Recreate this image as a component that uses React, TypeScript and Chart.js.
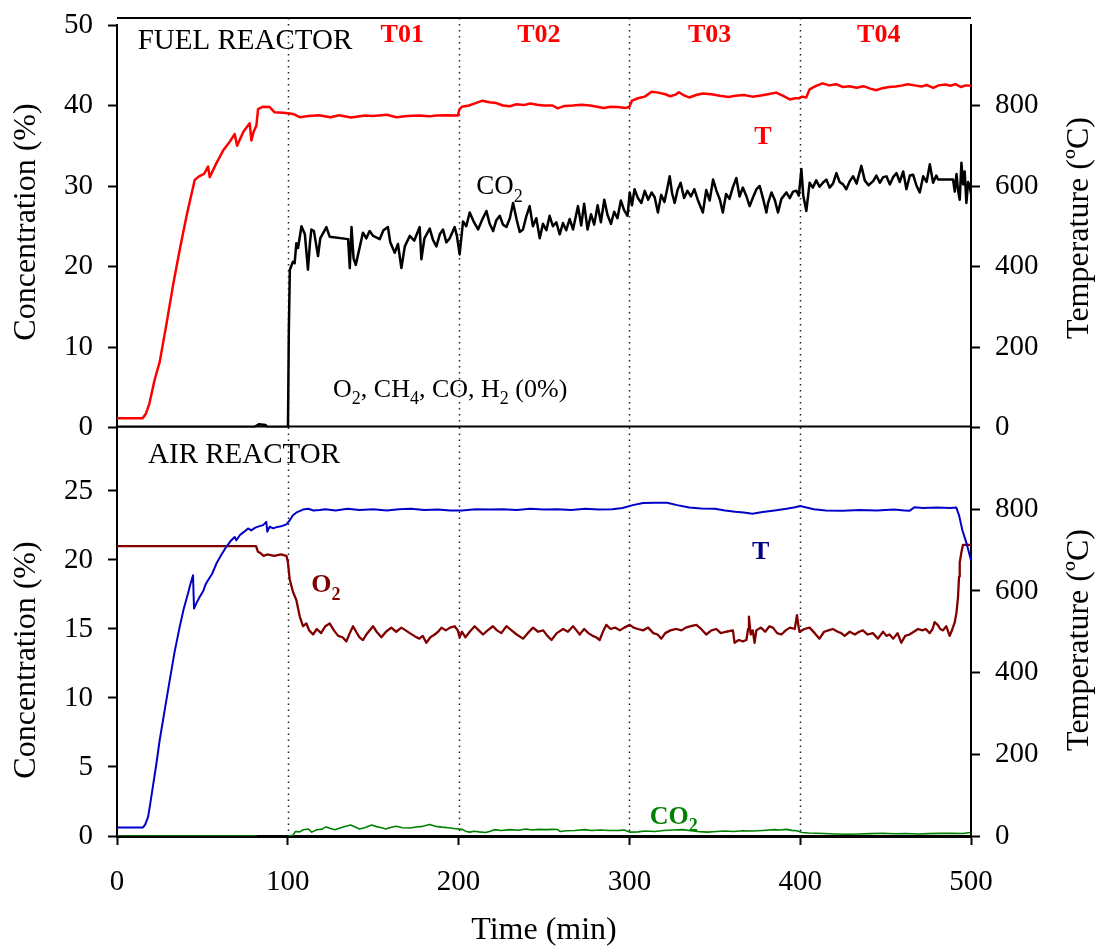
import React, { useEffect, useRef } from 'react';
import { Chart, registerables } from 'chart.js';

Chart.register(...registerables);

const W = 1099;
const H = 947;
const SERIF = '"Liberation Serif", "Times New Roman", Times, serif';
const LEFT_W = 117;
const RIGHT_W = 128;
const TOP_AREA_TOP = 25;
const PANEL_SPLIT = 427.5;
const X_AXIS_H = 111;

// ---------- tick labels / categories ----------
const X_TICKS = [0, 100, 200, 300, 400, 500];
const FUEL_CONC_TICKS = [0, 10, 20, 30, 40, 50];
const AIR_CONC_TICKS = [0, 5, 10, 15, 20, 25];
const TEMP_TICKS = [0, 200, 400, 600, 800];
const PERIOD_BOUNDS = [100, 200, 300, 400];
const PERIOD_LABELS = ['T01', 'T02', 'T03', 'T04'];
const PERIOD_LABEL_TIME = [167, 247, 347, 446];

// ---------- FUEL REACTOR series: [time (min), value] ----------
const FUEL_TEMP: [number, number][] = [
  [0, 23], [15, 23], [17, 35], [19, 60], [22, 118], [25, 163], [29, 258], [33, 358], [37, 448], [41, 531],
  [45.5, 615], [48, 624], [51, 630], [53.3, 648], [54.3, 622], [58, 655], [62.1, 688], [66, 710], [68.9, 729], [70.3, 700],
  [74, 735], [77.7, 756], [78.7, 713], [80, 735], [81.6, 750], [82.6, 791], [85.5, 797], [89.4, 796], [92.3, 783], [97.2, 782],
  [100, 781], [103, 779], [107, 771], [112, 774], [118, 776], [125, 771], [130, 776], [137, 770], [145, 775], [150, 774],
  [158, 777], [163.6, 771], [170, 774], [177, 775], [183, 773], [187, 775], [192, 776], [199.5, 775],
  [200.5, 790], [202, 797], [206, 800], [210, 806], [214, 812], [218, 808], [222, 806], [226, 800], [230, 798], [234, 803],
  [238, 801], [242, 805], [246, 802], [250, 800], [255, 800], [258, 793], [262, 799], [267, 800], [272, 802], [277, 800],
  [281, 797], [285, 794], [289, 797], [293, 796], [298, 794], [300, 797],
  [301.5, 812], [305, 818], [309, 822], [313, 834], [317, 832], [321, 828], [324, 823], [327, 827], [329, 833], [332, 825],
  [335, 820], [339, 826], [343, 830], [348, 828], [353, 824], [358, 821], [362, 824], [367, 826], [372, 822], [377, 825],
  [381, 828], [386, 832], [390, 824], [394, 815], [397, 818], [399.5, 818],
  [401, 822], [403.5, 820], [405.5, 840], [409, 848], [413, 855], [417, 850], [421, 853], [425, 846], [429, 848], [433, 844],
  [437, 848], [441, 842], [444.6, 838], [448, 843], [452, 846], [456, 847], [460, 850], [463, 853], [467, 850], [471, 847],
  [474, 851], [478, 844], [481, 850], [485, 852], [488, 849], [491, 853], [494, 846], [497, 850], [500, 849],
];

const FUEL_CO2: [number, number][] = [
  [0, 0], [80, 0], [83, 0.4], [87, 0.3], [88, 0], [100.1, 0], [100.6, 12], [101.2, 19.6], [103, 20.6], [104, 20.4],
  [105, 22.9], [106, 22.3], [108, 25], [110, 24], [111.8, 19.6], [113, 23], [113.8, 24.6], [115.3, 24.4], [117.7, 21.3], [119, 23.5],
  [122.6, 24.9], [124.5, 23.7], [135.3, 23.4], [136.3, 19.8], [137.3, 24.9], [138.5, 21], [139.8, 20.2], [142.2, 22.5], [144, 24.2], [146, 23.5],
  [147.9, 24.4], [150, 23.8], [153.8, 23.4], [156, 24.5], [158.6, 24.9], [160, 23], [162.6, 21.7], [164.5, 22.8], [166.5, 19.8], [168.5, 22.5],
  [171.4, 23.8], [174, 23.2], [177.2, 24.9], [178.2, 20.9], [180, 23.5], [183.1, 24.7], [185, 23.3], [187, 22.5], [189, 24], [190.9, 24.6],
  [192.8, 23], [194.8, 23.5], [197.7, 24.9], [199, 23.8], [200.6, 21.5], [202.6, 25.6], [204.5, 25], [206.5, 26.7], [209, 25.5], [211.4, 24.6],
  [213.8, 25.8], [216.3, 26.9], [218.2, 25.3], [220.2, 24.4], [222, 25.7], [224.1, 26.3], [226, 25.2], [228, 24.9], [230, 26], [231.9, 27.9],
  [234, 25.8], [235.8, 24.3], [237.7, 24.6], [239.6, 26.2], [241.6, 27.5], [243.5, 25], [245.5, 26], [247.5, 23.5], [249.4, 25.3], [251.4, 24.5],
  [253.3, 26.3], [255.2, 25], [257.2, 25.5], [259.2, 24], [261.1, 25.4], [263, 24.5], [265, 25.9], [267, 24.6], [269.9, 27.5], [271.8, 25.1],
  [273.5, 27.8], [275.5, 24.6], [277.5, 26.5], [279.4, 25.2], [281.4, 27.6], [283.3, 25.5], [285.3, 28.3], [287.2, 26.4], [289.2, 25.3], [291.1, 26.8],
  [293, 26], [295, 28.2], [296.9, 27], [298.9, 26.3], [300.2, 29.2], [301.5, 27.6], [303, 29.6], [305, 28.5], [307, 27.9], [309, 29.4],
  [311, 28.3], [313, 29.2], [314.8, 28.6], [316.7, 26.7], [318.6, 28.9], [320.5, 28], [322, 29.5], [323.6, 31.2], [325, 29.1], [326.5, 27.9],
  [328.2, 29.5], [330, 30.4], [332, 28.5], [334, 29.4], [336, 28.7], [338, 29.6], [340, 28.3], [343, 26.7], [345, 29.5], [347, 28.2],
  [349, 30.8], [351, 29.4], [353, 28.3], [354.7, 26.7], [356.6, 29], [358.6, 28.4], [360.5, 29.8], [362.6, 31], [364.5, 28.7], [366.4, 29.8],
  [368.4, 28.8], [370.4, 27.5], [372.4, 28.6], [374.4, 29.6], [376.3, 30], [378.3, 28.4], [380.2, 26.7], [381.2, 27.9], [383.2, 29.2], [385.1, 28.3],
  [387, 26.7], [389, 28.4], [391.9, 29.2], [393.9, 28.5], [395.8, 29.3], [397.8, 29.4], [399.2, 28.8], [400.7, 32.1], [401.8, 28.8], [403.6, 26.9],
  [405.5, 30.4], [407.4, 29.8], [409.4, 30.7], [411.3, 29.9], [413.3, 30.4], [415.3, 30.8], [417.2, 29.8], [419.2, 30.3], [421.2, 31.6], [423.1, 30.5],
  [425.1, 30.2], [427, 29.6], [429, 30.6], [431, 31.2], [433, 30.3], [435.8, 32.5], [437.8, 30.7], [440, 30.1], [442.7, 30.6], [444.6, 31.3],
  [446.6, 30.4], [448.6, 31.1], [450.5, 31.2], [452.5, 30.2], [454.4, 31.1], [456.4, 31.6], [458.3, 30.5], [460.3, 31.8], [462.2, 29.6], [464.2, 31.3],
  [466.1, 31.4], [468, 30.1], [470, 29.2], [472, 31.2], [474, 30.5], [475.9, 32.7], [477.8, 30.4], [479.7, 31.3], [480.7, 30.8], [489.5, 30.8],
  [490.5, 29.3], [491.5, 31.5], [492.4, 29.5], [493.4, 28.3], [494.4, 32.9], [495.4, 30.2], [496.3, 31.8], [497.3, 27.9], [498.3, 30.5], [499.2, 30], [500, 29],
];

// O2, CH4, CO, H2 all 0 %
const FUEL_OTHERS: [number, number][] = [[0, 0], [500, 0]];

// ---------- AIR REACTOR series ----------
const AIR_TEMP: [number, number][] = [
  [0, 21], [15.2, 21], [16.5, 28], [18.2, 47], [19.5, 80], [21, 121], [23, 175], [25, 235], [28, 310], [30.9, 382],
  [33.7, 450], [36.7, 512], [39, 555], [41.6, 594], [43, 617], [44.5, 638], [45.1, 557], [46.5, 570], [48.4, 585], [50.5, 600],
  [52, 617], [53.3, 626], [55.7, 642], [58.2, 667], [61, 688], [64, 708], [66.5, 722], [68.9, 732], [69.9, 724], [72, 737],
  [74.5, 745], [76.7, 753], [78.6, 748], [81, 755], [83, 758], [85.5, 761], [87.4, 769], [88, 745], [89.4, 757], [91.5, 753],
  [93.3, 756], [96, 758], [99.2, 763], [101, 772], [103, 785], [105.5, 793], [108.9, 799], [112, 801], [115, 797], [118.7, 798],
  [122, 800], [128, 797], [135, 801], [142, 798], [150, 800], [158, 797], [165, 800], [172, 801], [180, 798], [188, 799],
  [195, 797], [202, 797], [210, 800], [218, 799], [226, 800], [234, 798], [242, 801], [250, 799], [258, 800], [266, 798],
  [274, 801], [282, 799], [290, 800], [296, 803], [302, 810], [308, 815], [315, 816], [322, 816], [328, 810], [335, 804],
  [342, 802], [350, 801], [356, 797], [362, 794], [367, 792], [372, 789], [378, 793], [385, 797], [392, 801], [397, 805],
  [400, 808], [403, 805], [408, 800], [415, 797], [425, 796], [435, 798], [445, 797], [455, 799], [461, 797], [464, 796],
  [467, 805], [472, 803], [480, 804], [488, 803], [491.4, 804], [493, 785], [495, 748], [497.5, 715], [500, 675],
];

const AIR_O2: [number, number][] = [
  [0, 21], [81.4, 21], [82.5, 20.6], [84, 20.5], [85.8, 20.3], [88, 20.4], [92, 20.3], [96, 20.4], [99.2, 20.3], [100, 19.9],
  [101.1, 18.6], [103, 17.7], [105, 17.1], [107, 15.9], [108.9, 15.2], [110.9, 15.4], [112.5, 14.9], [114.8, 14.6], [117, 15], [119.5, 14.7],
  [122, 15.2], [124.5, 15.4], [127, 14.9], [129.5, 14.5], [132, 14.4], [134.3, 14.1], [136.3, 14.7], [138.2, 15.2], [140, 14.8], [142, 14.4],
  [144, 14.2], [146, 14.6], [149.9, 15.2], [152, 14.8], [154.8, 14.4], [157.5, 14.8], [160.6, 15.1], [163.5, 14.8], [166.5, 15.1], [169, 14.9],
  [171.4, 14.7], [174, 14.5], [177, 14.3], [179, 14.5], [181.1, 14], [183.5, 14.4], [186, 14.6], [188, 14.8], [190, 15.1], [192.5, 14.9],
  [195, 15.1], [197.7, 15.2], [199.5, 14.9], [200.6, 14.4], [202, 14.8], [204, 14.4], [206.5, 14.8], [209.4, 15.2], [211.8, 14.9], [214.3, 14.6],
  [217, 14.9], [220.1, 15.2], [222.5, 14.9], [225, 14.7], [228, 15.2], [231, 14.9], [234, 14.6], [237.7, 14.3], [240.5, 14.7], [243.6, 15.1],
  [246.5, 14.8], [249.5, 14.9], [252, 14.5], [254.4, 14.2], [257.5, 14.7], [261.2, 15], [264, 14.8], [267, 15.2], [269, 14.9], [270.9, 14.6],
  [273.5, 15], [276, 14.7], [278.5, 14.5], [280.5, 14.4], [282.6, 14.2], [284.5, 14.8], [286.5, 15.3], [289, 15], [291.5, 15.1], [294.4, 14.9],
  [297, 15.1], [300.2, 15.3], [302.5, 15.1], [305, 15], [308, 14.9], [311, 15.1], [314, 14.7], [316.5, 14.6], [318.7, 14.3], [321, 14.7],
  [324, 14.9], [327.5, 15], [330.5, 14.9], [333, 15.1], [336, 15.2], [339.2, 15.3], [342, 15], [345, 14.6], [348, 14.9], [350.9, 15],
  [353.5, 14.7], [356.5, 14.8], [360.6, 14.9], [361.6, 14], [364, 14.2], [366.5, 14.1], [368.5, 14.2], [369.5, 15], [370, 15.9], [371, 14.6],
  [372.2, 14.9], [373.3, 14], [374.3, 14.9], [377, 15.1], [379.5, 14.8], [382, 15.2], [384, 15.1], [386.5, 14.7], [389, 14.6], [391.5, 14.9],
  [394, 15.1], [396.8, 15], [398.1, 16], [399, 15.2], [399.6, 14.8], [402.5, 15], [405.5, 15.1], [408.5, 14.7], [411.3, 14.3], [414, 14.8],
  [416.5, 14.9], [419.1, 15], [422, 14.8], [424, 14.7], [426, 14.5], [429, 14.8], [432, 14.6], [434.5, 14.8], [436.7, 14.9], [439.5, 14.6],
  [442.5, 14.7], [445.5, 14.3], [448.5, 14.8], [450.5, 14.5], [452.3, 14.6], [454.5, 14.3], [457, 14.7], [459.2, 14], [461.5, 14.5], [464, 14.6],
  [466.5, 14.8], [469, 15], [471.5, 14.9], [473.5, 15], [475.8, 14.7], [477.5, 15], [478.7, 15.5], [480.5, 15.3], [482, 15], [483.6, 14.9],
  [485.5, 15.2], [487.5, 14.5], [488.5, 14.8], [489.4, 15.1], [490.5, 15.5], [491.5, 16.2], [492.4, 17.3], [493, 18.8], [493.4, 19.8], [494.3, 20.5],
  [495.3, 21.1], [500, 21.1],
];

const AIR_CO2: [number, number | null][] = [
  [0, 0], [82, 0], [83, null], [100, 0], [102.9, 0.05], [104.5, 0.33], [107, 0.3], [109, 0.45], [112, 0.51], [114, 0.28],
  [117, 0.45], [120, 0.5], [122.4, 0.66], [125, 0.55], [127.5, 0.46], [131, 0.6], [134, 0.7], [136.8, 0.79], [139.5, 0.65], [142, 0.51],
  [145, 0.6], [149.1, 0.79], [152, 0.68], [155, 0.6], [157.3, 0.51], [160, 0.62], [163.5, 0.71], [167, 0.6], [171.7, 0.58], [175, 0.65],
  [179, 0.7], [183, 0.84], [186.5, 0.7], [190.2, 0.64], [194, 0.6], [198.4, 0.53], [200.5, 0.5], [202.5, 0.46], [204.5, 0.32], [206.6, 0.28],
  [209, 0.35], [212, 0.3], [215.8, 0.25], [218.5, 0.35], [221, 0.46], [225, 0.4], [230, 0.46], [235, 0.42], [239.5, 0.51], [243, 0.44],
  [247, 0.48], [251.8, 0.46], [255, 0.48], [258, 0.47], [259.4, 0.33], [263, 0.38], [268, 0.4], [273.8, 0.46], [278, 0.4], [283, 0.43],
  [288, 0.4], [294.3, 0.41], [297, 0.44], [300.5, 0.28], [305, 0.3], [309, 0.36], [314.9, 0.33], [320, 0.4], [326, 0.43], [331.3, 0.46],
  [336, 0.38], [341, 0.32], [345.7, 0.28], [351, 0.33], [356, 0.36], [361, 0.33], [366.2, 0.38], [372, 0.36], [378, 0.4], [384.7, 0.46],
  [388, 0.43], [392, 0.48], [395, 0.41], [398, 0.38], [401.1, 0.25], [405, 0.22], [409.3, 0.2], [414, 0.18], [420, 0.15], [427.8, 0.13],
  [434, 0.15], [441, 0.17], [448.3, 0.2], [455, 0.16], [462, 0.18], [468.9, 0.15], [475, 0.17], [482, 0.19], [489.4, 0.2], [495, 0.18], [499.7, 0.25],
];

// ---------- helpers ----------
type Part = { text: string; sub?: boolean };
type Note = { x: number; y: number; parts: Part[]; size: number; bold?: boolean; color: string; align: 'left' | 'center' };

const toXY = (arr: [number, number | null][]) => arr.map(([x, y]) => ({ x, y }));

function drawRich(ctx: CanvasRenderingContext2D, n: Note, px: number, py: number) {
  const w = n.bold ? 'bold ' : '';
  const mainFont = `${w}${n.size}px ${SERIF}`;
  const subFont = `${w}${Math.round(n.size * 0.68)}px ${SERIF}`;
  let total = 0;
  const widths = n.parts.map((p) => {
    ctx.font = p.sub ? subFont : mainFont;
    const m = ctx.measureText(p.text).width;
    total += m;
    return m;
  });
  let x = n.align === 'center' ? px - total / 2 : px;
  const base = py + n.size * 0.33;
  ctx.fillStyle = n.color;
  ctx.textAlign = 'left';
  ctx.textBaseline = 'alphabetic';
  n.parts.forEach((p, i) => {
    ctx.font = p.sub ? subFont : mainFont;
    ctx.fillText(p.text, x, p.sub ? base + n.size * 0.3 : base);
    x += widths[i];
  });
}

function drawRotated(ctx: CanvasRenderingContext2D, text: string, x: number, y: number, size: number) {
  ctx.save();
  ctx.translate(x, y);
  ctx.rotate(-Math.PI / 2);
  ctx.font = `${size}px ${SERIF}`;
  ctx.fillStyle = '#000';
  ctx.textAlign = 'center';
  ctx.textBaseline = 'middle';
  ctx.fillText(text, 0, 0);
  ctx.restore();
}

function makeDecor(cfg: { notes: Note[]; topRule: boolean; leftTitleY: number; rightTitleY: number }) {
  return {
    id: 'decor',
    beforeDatasetsDraw(chart: any) {
      const { ctx, chartArea, scales } = chart;
      const top = cfg.topRule ? chartArea.top - 7 : chartArea.top;
      ctx.save();
      ctx.strokeStyle = '#222';
      ctx.lineWidth = 1.5;
      ctx.setLineDash([1.5, 4.5]);
      PERIOD_BOUNDS.forEach((v) => {
        const px = Math.round(scales.x.getPixelForValue(v)) + 0.5;
        ctx.beginPath();
        ctx.moveTo(px, top);
        ctx.lineTo(px, chartArea.bottom);
        ctx.stroke();
      });
      ctx.restore();
    },
    afterDraw(chart: any) {
      const { ctx, chartArea, scales } = chart;
      ctx.save();
      if (cfg.topRule) {
        ctx.strokeStyle = '#000';
        ctx.lineWidth = 2;
        ctx.beginPath();
        ctx.moveTo(chartArea.left, chartArea.top - 7);
        ctx.lineTo(chartArea.right, chartArea.top - 7);
        ctx.stroke();
      }
      cfg.notes.forEach((n) => {
        drawRich(ctx, n, scales.x.getPixelForValue(n.x), scales.yL.getPixelForValue(n.y));
      });
      drawRotated(ctx, 'Concentration (%)', 27, cfg.leftTitleY, 32);
      drawRotated(ctx, 'Temperature (ºC)', 1080, cfg.rightTitleY, 32);
      ctx.restore();
    },
  };
}

const tickFont = { family: SERIF, size: 29 };

function yAxis(position: 'left' | 'right', min: number, max: number, ticks: number[]) {
  return {
    type: 'linear',
    position,
    min,
    max,
    afterBuildTicks: (s: any) => {
      s.ticks = ticks.map((v) => ({ value: v }));
    },
    afterFit: (s: any) => {
      s.width = position === 'left' ? LEFT_W : RIGHT_W;
      s.paddingTop = 0;
      s.paddingBottom = 0;
    },
    ticks: { font: tickFont, color: '#000', padding: 15, autoSkip: false, callback: (v: any) => String(v) },
    grid: { display: true, drawOnChartArea: false, drawTicks: true, tickLength: 9, tickWidth: 2, tickColor: '#000' },
    border: { display: true, color: '#000', width: 2 },
    title: { display: false },
  };
}

const lineDs = (label: string, data: any[], axis: string, color: string, width: number) => ({
  label,
  data,
  yAxisID: axis,
  borderColor: color,
  backgroundColor: color,
  borderWidth: width,
  pointRadius: 0,
  tension: 0,
  fill: false,
  spanGaps: false,
  borderJoinStyle: 'round',
  borderCapStyle: 'butt',
});

function topConfig(): any {
  const notes: Note[] = [
    { x: 12.1, y: 48.2, parts: [{ text: 'FUEL REACTOR' }], size: 29, color: '#000', align: 'left' },
    ...PERIOD_LABELS.map((t, i) => ({
      x: PERIOD_LABEL_TIME[i], y: 49.0, parts: [{ text: t }], size: 26, bold: true, color: '#ff0000', align: 'center' as const,
    })),
    { x: 378.2, y: 36.3, parts: [{ text: 'T' }], size: 26, bold: true, color: '#ff0000', align: 'center' },
    { x: 210.4, y: 30.1, parts: [{ text: 'CO' }, { text: '2', sub: true }], size: 27, color: '#000', align: 'left' },
    {
      x: 126.5, y: 4.9,
      parts: [{ text: 'O' }, { text: '2', sub: true }, { text: ', CH' }, { text: '4', sub: true }, { text: ', CO, H' }, { text: '2', sub: true }, { text: ' (0%)' }],
      size: 26, color: '#000', align: 'left',
    },
  ];
  return {
    type: 'line',
    data: {
      datasets: [
        lineDs('T', toXY(FUEL_TEMP), 'yR', '#ff0000', 2.5),
        lineDs('CO2', toXY(FUEL_CO2), 'yL', '#000000', 2.5),
        lineDs('O2, CH4, CO, H2', toXY(FUEL_OTHERS), 'yL', '#000000', 4),
      ],
    },
    options: {
      animation: false,
      responsive: false,
      devicePixelRatio: 1,
      layout: { padding: { top: TOP_AREA_TOP, bottom: H - PANEL_SPLIT, left: 0, right: 0 } },
      plugins: { legend: { display: false }, tooltip: { enabled: false } },
      scales: {
        x: { type: 'linear', min: 0, max: 500, display: false },
        yL: yAxis('left', 0, 50, FUEL_CONC_TICKS),
        yR: yAxis('right', 0, 1000, TEMP_TICKS),
      },
    },
    plugins: [makeDecor({ notes, topRule: true, leftTitleY: 222, rightTitleY: 228 })],
  };
}

function bottomConfig(): any {
  const notes: Note[] = [
    { x: 18.2, y: 27.7, parts: [{ text: 'AIR REACTOR' }], size: 29, color: '#000', align: 'left' },
    { x: 376.9, y: 20.7, parts: [{ text: 'T' }], size: 26, bold: true, color: '#000080', align: 'center' },
    { x: 113.8, y: 18.3, parts: [{ text: 'O' }, { text: '2', sub: true }], size: 26, bold: true, color: '#800000', align: 'left' },
    { x: 311.9, y: 1.52, parts: [{ text: 'CO' }, { text: '2', sub: true }], size: 26, bold: true, color: '#008000', align: 'left' },
  ];
  return {
    type: 'line',
    data: {
      datasets: [
        lineDs('T', toXY(AIR_TEMP), 'yR', '#0000c8', 2),
        lineDs('O2', toXY(AIR_O2), 'yL', '#800000', 2.3),
        lineDs('CO2', toXY(AIR_CO2), 'yL', '#008000', 1.6),
      ],
    },
    options: {
      animation: false,
      responsive: false,
      devicePixelRatio: 1,
      layout: { padding: { top: PANEL_SPLIT, bottom: 0, left: 0, right: 0 } },
      plugins: { legend: { display: false }, tooltip: { enabled: false } },
      scales: {
        x: {
          type: 'linear',
          position: 'bottom',
          min: 0,
          max: 500,
          afterBuildTicks: (s: any) => {
            s.ticks = X_TICKS.map((v) => ({ value: v }));
          },
          afterFit: (s: any) => {
            s.height = X_AXIS_H;
          },
          ticks: { font: tickFont, color: '#000', padding: 20, autoSkip: false, maxRotation: 0, callback: (v: any) => String(v) },
          grid: { display: true, drawOnChartArea: false, drawTicks: true, tickLength: 9, tickWidth: 2, tickColor: '#000' },
          border: { display: true, color: '#000', width: 3 },
          title: {
            display: true,
            text: 'Time (min)',
            color: '#000',
            font: { family: SERIF, size: 32, lineHeight: 1 },
            padding: { top: 0, bottom: 0 },
          },
        },
        yL: yAxis('left', 0, 29.6, AIR_CONC_TICKS),
        yR: yAxis('right', 0, 1000, TEMP_TICKS),
      },
    },
    plugins: [makeDecor({ notes, topRule: false, leftTitleY: 660, rightTitleY: 640 })],
  };
}

export default function App() {
  const topRef = useRef<HTMLCanvasElement>(null);
  const botRef = useRef<HTMLCanvasElement>(null);

  useEffect(() => {
    Chart.defaults.font.family = SERIF;
    const bot = new Chart(botRef.current as HTMLCanvasElement, bottomConfig());
    const top = new Chart(topRef.current as HTMLCanvasElement, topConfig());
    return () => {
      top.destroy();
      bot.destroy();
    };
  }, []);

  return (
    <div style={{ position: 'fixed', left: 0, top: 0, width: W, height: H, background: '#fff' }}>
      <canvas ref={botRef} width={W} height={H} style={{ position: 'absolute', left: 0, top: 0 }} />
      <canvas ref={topRef} width={W} height={H} style={{ position: 'absolute', left: 0, top: 0 }} />
    </div>
  );
}
